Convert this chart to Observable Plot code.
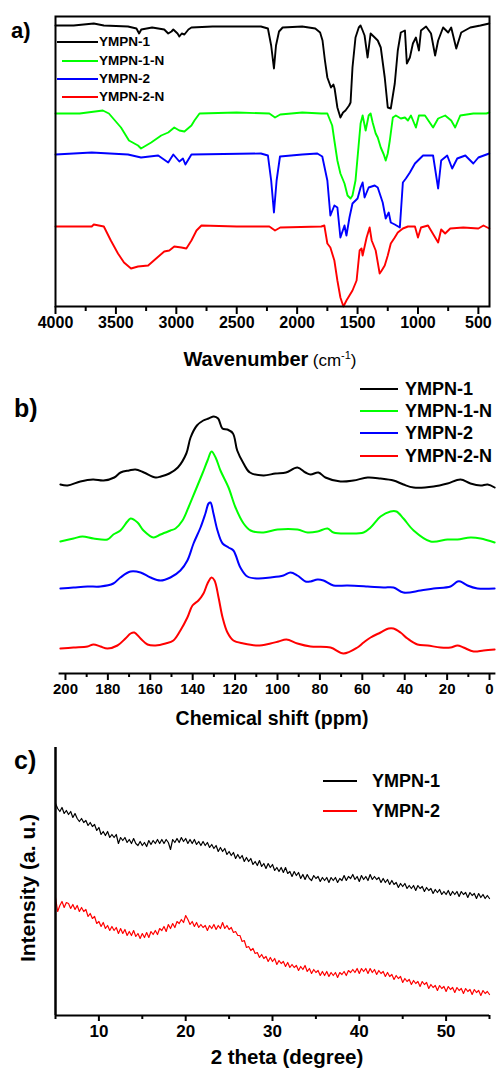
<!DOCTYPE html>
<html>
<head>
<meta charset="utf-8">
<script src="https://cdn.jsdelivr.net/npm/d3@7"></script>
<script src="https://cdn.jsdelivr.net/npm/@observablehq/plot@0.6"></script>
<style>
  html, body { margin: 0; padding: 0; background: #fff; }
  #root { position: relative; width: 497px; height: 1072px; overflow: hidden; background: #fff;
          font-family: "Liberation Sans", Arial, Helvetica, sans-serif; color: #000; }
  .t { position: absolute; white-space: nowrap; line-height: 1; }
</style>
</head>
<body>
<div id="root"></div>
<script>
// ---------------- DATA ----------------
// Panel a) FT-IR: [wavenumber (cm-1), transmittance (offset, a.u.)]
const irNames = ["YMPN-1", "YMPN-1-N", "YMPN-2", "YMPN-2-N"];
const irColors = ["#000000", "#00ff00", "#0000ff", "#ff0000"];
const irYMPN1 = [[4000,281],[3850,281],[3683,283],[3600,281],[3400,280],[3330,278],[3308,273],[3290,277],[3200,279],[3100,277],[3067,273],[3040,275],[3025,277],[2990,273],[2975,270],[2955,273],[2933,272],[2900,277],[2875,279],[2700,280],[2300,280],[2242,278],[2215,261],[2192,238],[2175,261],[2150,275],[2120,279],[1958,280],[1850,278],[1810,274],[1790,266],[1770,246],[1750,229],[1720,219],[1700,222],[1690,218],[1667,199],[1642,189],[1620,194],[1600,196],[1570,201],[1558,204],[1542,239],[1517,269],[1490,279],[1475,281],[1458,276],[1442,271],[1417,249],[1392,273],[1358,269],[1333,266],[1308,259],[1275,229],[1250,199],[1225,198],[1192,223],[1167,256],[1142,274],[1108,276],[1092,243],[1067,249],[1042,263],[1017,269],[992,256],[975,276],[933,280],[892,273],[858,251],[833,266],[792,279],[750,274],[725,279],[683,258],[642,274],[567,279],[483,281],[410,283]];
const irYMPN1N = [[4000,193],[3800,193],[3608,196],[3558,193],[3458,179],[3392,166],[3317,161],[3292,158],[3208,164],[3125,171],[3067,174],[3017,179],[2975,176],[2933,175],[2875,181],[2850,186],[2808,193],[2500,194],[2230,193],[2183,189],[2140,192],[1958,194],[1800,193],[1750,193],[1710,181],[1692,166],[1667,146],[1642,133],[1608,123],[1583,111],[1558,108],[1542,111],[1517,126],[1492,160],[1475,183],[1458,191],[1433,176],[1408,191],[1392,193],[1375,184],[1350,173],[1333,169],[1308,159],[1283,152],[1267,146],[1250,153],[1233,166],[1208,189],[1183,191],[1142,188],[1108,189],[1083,186],[1058,191],[1017,179],[992,191],[942,191],[875,179],[833,188],[775,191],[725,186],[692,179],[650,191],[542,193],[433,193],[410,194]];
const irYMPN2 = [[4000,152],[3700,154],[3400,152],[3292,149],[3150,151],[3067,144],[3025,152],[2975,145],[2945,148],[2925,142],[2875,152],[2300,153],[2242,151],[2215,126],[2192,94],[2170,126],[2142,150],[1958,152],[1833,153],[1792,150],[1750,126],[1725,91],[1692,101],[1667,99],[1642,69],[1608,81],[1592,71],[1567,89],[1542,103],[1500,108],[1475,119],[1458,124],[1442,109],[1408,119],[1358,121],[1333,119],[1292,104],[1267,88],[1242,94],[1225,84],[1192,82],[1150,79],[1125,124],[1100,128],[1067,134],[1025,143],[1000,146],[958,151],[875,151],[833,118],[808,146],[758,151],[717,138],[675,148],[608,151],[542,143],[500,149],[410,153]];
const irYMPN2N = [[4000,80],[3700,80],[3683,82],[3600,80],[3542,66],[3483,53],[3433,44],[3375,38],[3317,40],[3233,41],[3167,48],[3100,55],[3058,56],[3017,60],[2958,59],[2917,58],[2875,66],[2833,76],[2792,81],[2500,80],[2230,80],[2183,76],[2140,79],[1800,80],[1775,81],[1750,63],[1725,59],[1692,46],[1667,26],[1642,9],[1617,0],[1592,6],[1567,11],[1542,16],[1508,26],[1483,56],[1467,58],[1458,51],[1425,69],[1400,79],[1383,66],[1350,56],[1317,33],[1300,36],[1275,41],[1250,51],[1225,63],[1192,69],[1167,74],[1125,78],[1083,80],[1025,80],[1000,69],[975,79],[917,81],[833,64],[808,77],[775,73],[733,78],[625,79],[500,78],[458,81],[410,78]];
const irMajorTicks = [4000,3500,3000,2500,2000,1500,1000,500];
const irMinorTicks = [3750,3250,2750,2250,1750,1250,750];

// Panel b) 13C NMR: [chemical shift (ppm), intensity (offset, a.u.)]
const nmrYMPN1 = [[202.4,189],[199,188],[193,192],[187,194],[182,193],[177,196],[174,201],[170,203],[167,204],[163,201],[157.5,196],[155,197],[151,200],[147,206],[143,220],[141,236],[138,248],[135,253],[132.5,255],[130,257],[128,255],[126,245],[123.6,244],[121,240],[119,223],[116,210],[113,201],[106.6,198],[101,200],[96,201],[90.6,206],[86.8,201],[84.4,199],[80.7,201],[77.4,196],[70.3,192],[64.2,193],[57.5,196],[51.4,195],[45.3,193],[40.6,189],[35.8,186],[26.4,187],[19.8,190],[13.7,194],[9,190],[4.2,188],[0.9,189],[-2.4,186]];
const nmrYMPN1N = [[202.4,132],[196.2,135],[192,137],[186.8,135],[180.2,134],[177.4,139],[174.1,143],[170.8,152],[169.3,155],[166,151],[163.2,143],[158.5,136],[155.2,139],[150.5,143],[148.1,145],[144.8,153],[142,166],[138.7,183],[135.4,200],[133,213],[131.1,222],[129.2,216],[126.9,203],[123.1,186],[119.8,166],[116,150],[112.7,143],[106.6,141],[100,144],[90.6,144],[85.8,141],[81.1,142],[76.4,145],[73.6,141],[67,140],[59.4,141],[56.1,146],[51.4,157],[46.7,162],[43.9,162],[40.6,155],[35.8,143],[27.8,132],[19.8,134],[15.1,134],[9,136],[4.2,135],[-2.4,131]];
const nmrYMPN2 = [[202.4,85],[196.2,86],[189.6,87],[183.5,87],[177.4,90],[174.1,96],[169.3,102],[164.6,101],[159.9,96],[155.2,93],[150.5,96],[145.8,103],[142.5,113],[139.6,130],[136.3,146],[134,160],[132.5,170],[131.6,171],[130.2,160],[128.3,143],[125.9,130],[123.1,126],[120.8,123],[117.5,106],[114.2,97],[109.4,95],[103.3,96],[97.2,98],[93.9,101],[90.6,98],[86.8,92],[84.4,92],[81.1,94],[78.3,93],[73.6,88],[67,88],[57.5,87],[50,86],[45.3,86],[40.6,81],[32.5,83],[26.4,85],[18.4,87],[15.1,92],[13.7,92],[10.4,88],[5.7,85],[-2.4,85]];
const nmrYMPN2N = [[202.4,25],[196.2,26],[189.6,27],[186.8,29],[183.5,27],[180.2,25],[175.5,28],[171.7,35],[169.3,40],[167.5,41],[164.6,35],[161.3,29],[157.5,28],[152.8,30],[149.1,33],[145.8,43],[142.5,56],[140.1,68],[137.3,73],[134.9,80],[133,90],[131.1,96],[129.7,93],[127.8,76],[125.9,56],[123.6,41],[120.8,33],[116,30],[109.4,28],[103.3,30],[99.5,32],[95.8,34],[90.6,30],[84.4,27],[75,26],[68.9,20],[62.3,26],[59.4,31],[56.1,36],[51.4,41],[47.6,45],[45.3,45],[42,41],[38.7,35],[34,29],[29.2,28],[23.1,26],[18.4,26],[15.1,28],[12.3,26],[7.5,22],[2.8,23],[-2.4,24]];
const nmrMajorTicks = [200,180,160,140,120,100,80,60,40,20,0];
const nmrMinorTicks = [190,170,150,130,110,90,70,50,30,10];

// Panel c) XRD: 2 theta (degree) and intensity (offset, a.u.)
const xrdNames = ["YMPN-1", "YMPN-2"];
const xrdColors = ["#000000", "#ff0000"];
const xrdTheta = [5,5.25,5.5,5.75,6,6.25,6.5,6.75,7,7.25,7.5,7.75,8,8.25,8.5,8.75,9,9.25,9.5,9.75,10,10.25,10.5,10.75,11,11.25,11.5,11.75,12,12.25,12.5,12.75,13,13.25,13.5,13.75,14,14.25,14.5,14.75,15,15.25,15.5,15.75,16,16.25,16.5,16.75,17,17.25,17.5,17.75,18,18.25,18.5,18.75,19,19.25,19.5,19.75,20,20.25,20.5,20.75,21,21.25,21.5,21.75,22,22.25,22.5,22.75,23,23.25,23.5,23.75,24,24.25,24.5,24.75,25,25.25,25.5,25.75,26,26.25,26.5,26.75,27,27.25,27.5,27.75,28,28.25,28.5,28.75,29,29.25,29.5,29.75,30,30.25,30.5,30.75,31,31.25,31.5,31.75,32,32.25,32.5,32.75,33,33.25,33.5,33.75,34,34.25,34.5,34.75,35,35.25,35.5,35.75,36,36.25,36.5,36.75,37,37.25,37.5,37.75,38,38.25,38.5,38.75,39,39.25,39.5,39.75,40,40.25,40.5,40.75,41,41.25,41.5,41.75,42,42.25,42.5,42.75,43,43.25,43.5,43.75,44,44.25,44.5,44.75,45,45.25,45.5,45.75,46,46.25,46.5,46.75,47,47.25,47.5,47.75,48,48.25,48.5,48.75,49,49.25,49.5,49.75,50,50.25,50.5,50.75,51,51.25,51.5,51.75,52,52.25,52.5,52.75,53,53.25,53.5,53.75,54,54.25,54.5,54.75,55];
const xrdYMPN1 = [212,207,204,208, 202,205,201,204, 198,202,197,194, 197,193,195,190, 193,189,191,185, 188,181,184,180, 184,178,181,178, 181,172,178,175, 178,173,176,172, 177,172,170,174, 170,173,169,175, 171,175,172,176, 172,176,172,176, 173,166,176,173, 177,173,178,174, 177,172,176,172, 176,171,174,170, 174,170,173,168, 171,167,170,164, 168,164,167,161, 164,160,163,157, 161,157,160,154, 158,154,157,151, 154,150,155,149, 152,147,152,148, 151,145,148,144, 148,143,148,142, 144,139,144,140, 143,137,141,136, 141,137,135,140, 137,139,134,138, 135,138,133,138, 135,138,133,137, 135,140,135,139, 137,141,136,139, 134,140,136,139, 135,141,136,139, 136,138,133,137, 133,136,131,135, 131,133,128,132, 129,132,127,130, 127,130,125,130, 127,129,124,128, 125,127,122,126, 123,126,121,124, 121,125,120,124, 121,124,119,124, 121,123,118,123, 120,122,117,122, 118,121,117,120, 117];
const xrdYMPN2 = [118,104,110,114, 108,113,112,107, 111,106,110,104, 108,104,106,99, 102,97,99,92, 94,89,93,87, 90,85,89,85, 88,82,87,82, 86,80,84,80, 85,79,82,77, 82,78,83,78, 84,81,85,81, 87,85,89,84, 91,87,92,88, 94,92,96,93, 100,96,91,94, 89,93,88,91, 88,90,85,90, 87,91,86,90, 87,93,87,90, 86,88,83,84, 80,80,74,75, 68,69,65,67, 62,63,58,61, 57,59,54,58, 54,57,51,55, 52,54,49,53, 48,51,48,50, 45,49,46,50, 44,47,42,46, 43,45,40,44, 40,44,39,43, 40,43,38,43, 41,44,40,45, 43,46,43,47, 42,47,44,47, 42,47,43,46, 41,45,42,44, 39,43,39,41, 36,40,37,39, 33,37,34,36, 31,35,32,34, 29,34,31,33, 27,31,28,30, 25,30,27,29, 24,29,26,28, 23,28,25,27, 22,27,24,26, 21,26,23,25, 20,25,22,24, 21];
const xrdMajorTicks = [10,20,30,40,50];
const xrdMinorTicks = [5,15,25,35,45,55];

// ---------------- BUILD ----------------
const FONT = '"Liberation Sans", Arial, Helvetica, sans-serif';
const root = document.getElementById("root");

function place(svg, top) {
  svg.style.position = "absolute";
  svg.style.left = "0px";
  svg.style.top = top + "px";
  root.appendChild(svg);
}
function text(html, x, y, css, anchor) {
  const d = document.createElement("div");
  d.className = "t";
  d.innerHTML = html;
  d.style.left = x + "px";
  d.style.top = y + "px";
  d.style.transform = anchor === "middle" ? "translate(-50%,-50%)" : "translate(0,-50%)";
  Object.assign(d.style, css || {});
  root.appendChild(d);
  return d;
}
function legendRow(x1, x2, y, color, label, tx, fs) {
  const l = document.createElement("div");
  l.style.cssText = `position:absolute;left:${x1}px;top:${y - 1}px;width:${x2 - x1}px;height:2px;background:${color};`;
  root.appendChild(l);
  text(label, tx, y, {fontSize: fs + "px", fontWeight: "bold"});
}

const baseStyle = {background: "transparent", fontFamily: FONT, color: "#000", overflow: "visible"};

// Panel a
const irSets = [irYMPN1, irYMPN1N, irYMPN2, irYMPN2N];
const irRows = irSets.flatMap((pts, i) => pts.map(([wn, t]) => ({series: irNames[i], wn, t})));
const plotA = Plot.plot({
  width: 497, height: 345,
  marginLeft: 55, marginRight: 8, marginTop: 16, marginBottom: 39,
  style: baseStyle,
  x: {domain: [4000, 408]},
  y: {domain: [0, 290], axis: null},
  color: {domain: irNames, range: irColors},
  marks: [
    Plot.line(irRows, {x: "wn", y: "t", z: "series", stroke: "series", strokeWidth: 1.9}),
    Plot.frame({stroke: "#000", strokeWidth: 2}),
    Plot.axisX({ticks: irMajorTicks, tickFormat: "d", tickSize: 8, tickPadding: 2, fontSize: 16, fontWeight: "bold", strokeWidth: 2, label: null}),
    Plot.axisX({ticks: irMinorTicks, tickSize: 5, text: null, strokeWidth: 2, label: null})
  ]
});
place(plotA, 0);

// Panel b
const nmrSets = [nmrYMPN1, nmrYMPN1N, nmrYMPN2, nmrYMPN2N];
const nmrRows = nmrSets.flatMap((pts, i) => pts.map(([ppm, v]) => ({series: irNames[i], ppm, v})));
const plotB = Plot.plot({
  width: 497, height: 343,
  marginLeft: 58.6, marginRight: 1.6, marginTop: 13, marginBottom: 30,
  style: baseStyle,
  x: {domain: [203, -3]},
  y: {domain: [0, 300], axis: null},
  color: {domain: irNames, range: irColors},
  marks: [
    Plot.line(nmrRows, {x: "ppm", y: "v", z: "series", stroke: "series", strokeWidth: 2, curve: "catmull-rom"}),
    Plot.ruleY([0], {stroke: "#000", strokeWidth: 2}),
    Plot.axisX({ticks: nmrMajorTicks, tickFormat: "d", tickSize: 7, tickPadding: 3, fontSize: 15, fontWeight: "bold", strokeWidth: 2, label: null}),
    Plot.axisX({ticks: nmrMinorTicks, tickSize: 4, text: null, strokeWidth: 2, label: null})
  ]
});
place(plotB, 360);

// Panel c
const xrdRows = [xrdYMPN1, xrdYMPN2].flatMap((vals, i) => vals.map((v, j) => ({series: xrdNames[i], theta: xrdTheta[j], v})));
const plotC = Plot.plot({
  width: 497, height: 305,
  marginLeft: 55, marginRight: 8, marginTop: 7, marginBottom: 30,
  style: baseStyle,
  x: {domain: [5, 55]},
  y: {domain: [0, 268], axis: null},
  color: {domain: xrdNames, range: xrdColors},
  marks: [
    Plot.line(xrdRows, {x: "theta", y: "v", z: "series", stroke: "series", strokeWidth: 1.2}),
    Plot.ruleY([0], {stroke: "#000", strokeWidth: 2}),
    Plot.ruleX([5], {stroke: "#000", strokeWidth: 2.5}),
    Plot.axisX({ticks: xrdMajorTicks, tickFormat: "d", tickSize: 6, tickPadding: 3, fontSize: 17, fontWeight: "bold", strokeWidth: 2, label: null}),
    Plot.axisX({ticks: xrdMinorTicks, tickSize: 4, text: null, strokeWidth: 2, label: null})
  ]
});
place(plotC, 740);

// Panel labels and axis titles
text("a)", 11, 31, {fontSize: "22px", fontWeight: "bold"});
text("b)", 14, 408, {fontSize: "25px", fontWeight: "bold"});
text("c)", 14, 760, {fontSize: "25px", fontWeight: "bold"});

text('<span style="font-weight:bold;font-size:20px">Wavenumber</span> <span style="font-size:17px">(cm<span style="font-size:11px;position:relative;top:-7px">-1</span>)</span>',
     270, 359, {}, "middle");
text("Chemical shift (ppm)", 272, 719, {fontSize: "19.5px", fontWeight: "bold"}, "middle");
text("2 theta (degree)", 287, 1057, {fontSize: "20.5px", fontWeight: "bold"}, "middle");
const yt = text("Intensity (a. u.)", 27, 888, {fontSize: "21px", fontWeight: "bold"}, "middle");
yt.style.transform = "translate(-50%,-50%) rotate(-90deg)";

// Legends
const legA = [42, 61, 79, 97];
irNames.forEach((n, i) => legendRow(i % 2 ? 62 : 57, 98, legA[i], irColors[i], n, 99, 13.5));
const legB = [389, 411, 433, 456];
irNames.forEach((n, i) => legendRow(360, 398, legB[i], irColors[i], n, 405, 18));
const legC = [781, 811];
xrdNames.forEach((n, i) => legendRow(323, 357, legC[i], xrdColors[i], n, 372, 18));
</script>
</body>
</html>
